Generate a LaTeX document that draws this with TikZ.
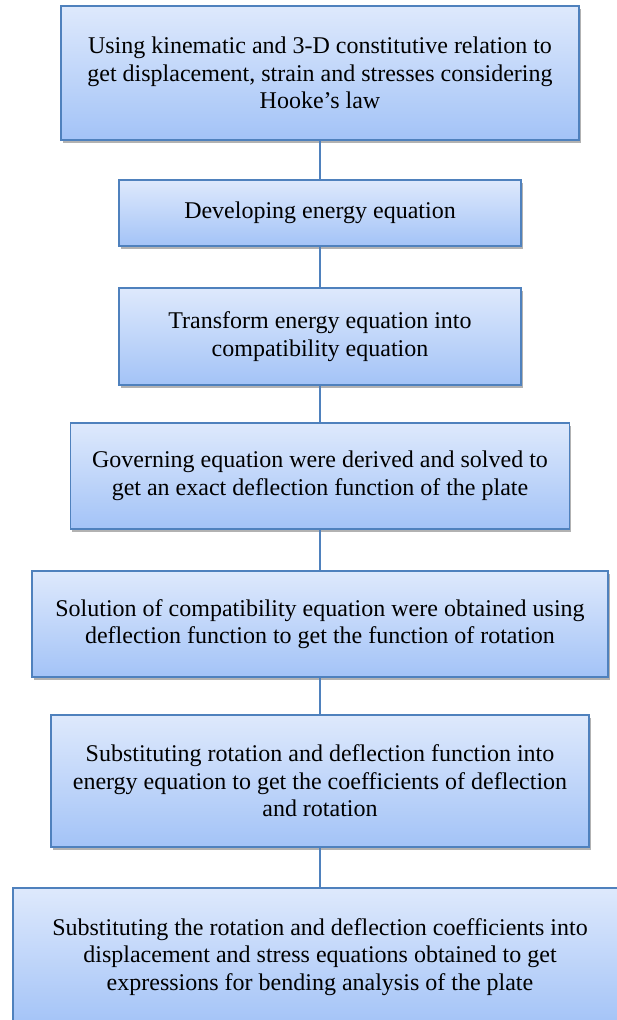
\documentclass[tikz,border=0pt]{standalone}
\usepackage{fontspec}
\setmainfont{Liberation Serif}
\usetikzlibrary{shadows}
\definecolor{boxtop}{RGB}{222,233,252}
\definecolor{boxbot}{RGB}{163,195,247}
\definecolor{boxline}{RGB}{79,129,189}
\begin{document}
\begin{tikzpicture}[x=1pt,y=-1pt,
  stepbox/.style={draw=boxline, line width=1.4pt, top color=boxtop, bottom color=boxbot,
    align=center, inner sep=0pt, font=\fontsize{24}{27.6}\selectfont,
    drop shadow={shadow xshift=1.5pt, shadow yshift=-2.5pt, fill=black, opacity=0.3}},
  link/.style={draw=boxline, line width=1.4pt}]
\useasboundingbox (0,0) rectangle (616,1020);
\node[stepbox, minimum width=518pt, minimum height=134pt] (b1) at (320,73)
  {Using kinematic and 3-D constitutive relation to\\get displacement, strain and stresses considering\\Hooke’s law};
\node[stepbox, minimum width=402pt, minimum height=66pt] (b2) at (320,213)
  {Developing energy equation};
\node[stepbox, minimum width=402pt, minimum height=97pt] (b3) at (320,336.5)
  {Transform energy equation into\\compatibility equation};
\node[stepbox, minimum width=499pt, minimum height=106pt] (b4) at (320,476)
  {Governing equation were derived and solved to\\get an exact deflection function of the plate};
\node[stepbox, minimum width=576pt, minimum height=106pt] (b5) at (320,624)
  {Solution of compatibility equation were obtained using\\deflection function to get the function of rotation};
\node[stepbox, minimum width=538pt, minimum height=132pt] (b6) at (320,781)
  {Substituting rotation and deflection function into\\energy equation to get the coefficients of deflection\\and rotation};
\node[stepbox, minimum width=614pt, minimum height=138pt] (b7) at (320,957)
  {Substituting the rotation and deflection coefficients into\\displacement and stress equations obtained to get\\expressions for bending analysis of the plate};
\draw[link] (b1.south) -- (b2.north);
\draw[link] (b2.south) -- (b3.north);
\draw[link] (b3.south) -- (b4.north);
\draw[link] (b4.south) -- (b5.north);
\draw[link] (b5.south) -- (b6.north);
\draw[link] (b6.south) -- (b7.north);
\end{tikzpicture}
\end{document}
